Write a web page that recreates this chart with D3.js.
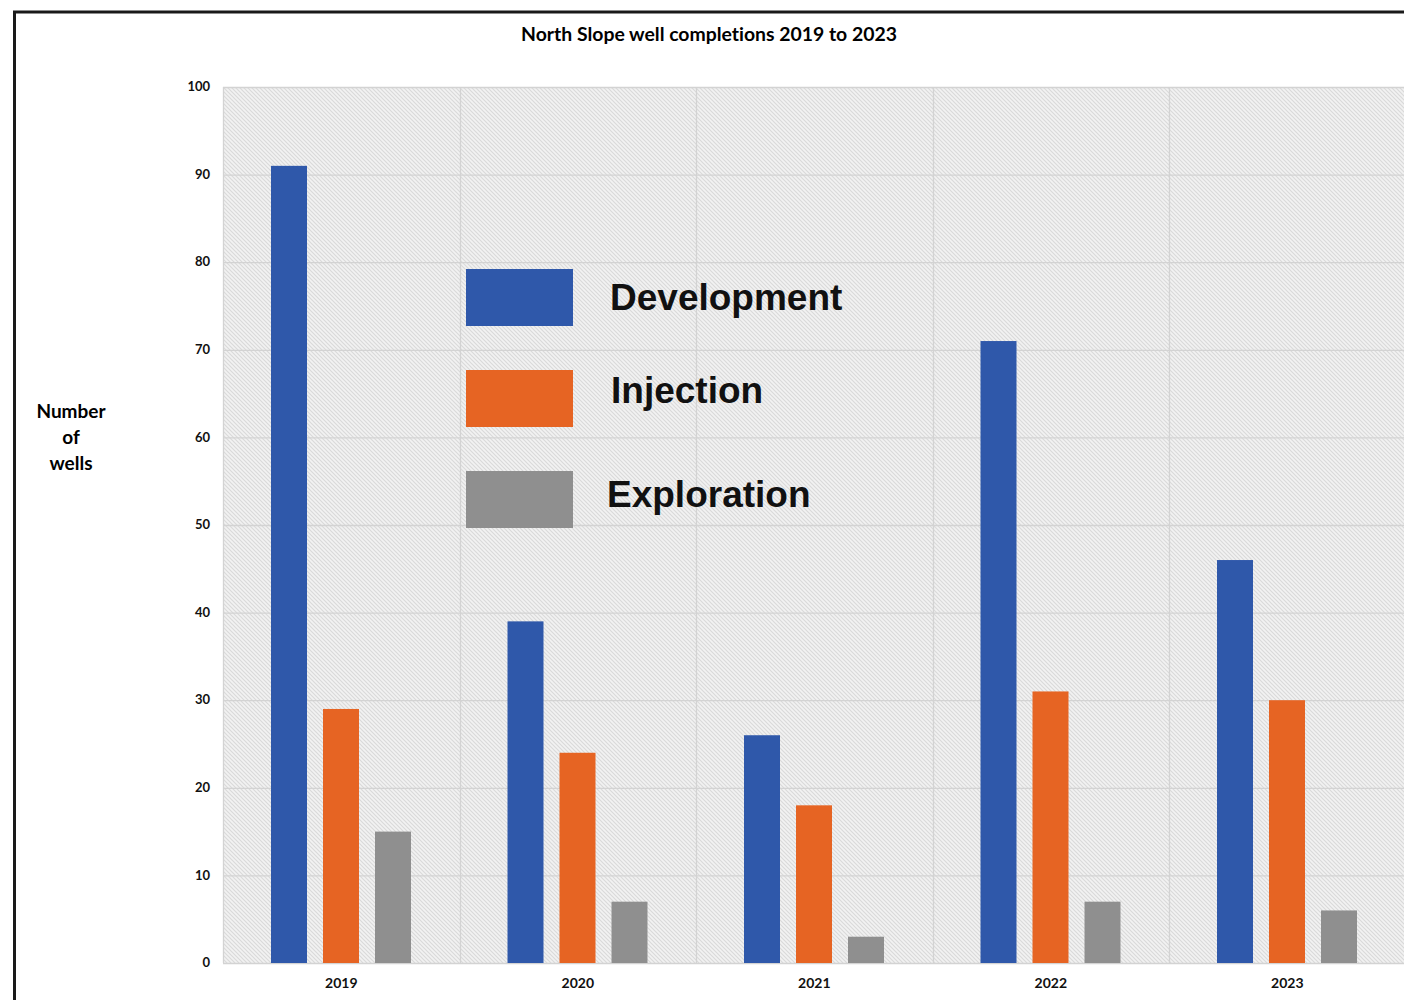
<!DOCTYPE html>
<html>
<head>
<meta charset="utf-8">
<script src="https://cdn.jsdelivr.net/npm/d3@7"></script>
<style>
  html, body { margin: 0; padding: 0; background: #fff; }
  svg { display: block; }
  text { font-variant-ligatures: none; font-feature-settings: "liga" 0; }
</style>
</head>
<body>
<svg id="chart" width="1404" height="1000"></svg>
<script>
const years = ["2019", "2020", "2021", "2022", "2023"];
const seriesNames = ["Development", "Injection", "Exploration"];
const development = [91, 39, 26, 71, 46];
const injection = [29, 24, 18, 31, 30];
const exploration = [15, 7, 3, 7, 6];
const yTicks = [0, 10, 20, 30, 40, 50, 60, 70, 80, 90, 100];
const colors = ["#2F58AA", "#E66423", "#8F8F8F"];
const titleText = "North Slope well completions 2019 to 2023";
const yLabelLines = ["Number", "of", "wells"];

const seriesValues = [development, injection, exploration];

const svg = d3.select("#chart");

// hatch pattern
const defs = svg.append("defs");
const pat = defs.append("pattern")
  .attr("id", "hatch")
  .attr("patternUnits", "userSpaceOnUse")
  .attr("width", 4).attr("height", 4);
pat.append("rect").attr("width", 4).attr("height", 4).attr("fill", "#f2f2f2");
pat.append("path")
  .attr("d", "M-1,-1 L5,5 M-1,3 L1,5 M3,-1 L5,1")
  .attr("stroke", "#d9d9d9").attr("stroke-width", 1.1);

// outer frame
svg.append("rect")
  .attr("x", 14.5).attr("y", 12)
  .attr("width", 1500).attr("height", 1100)
  .attr("fill", "#fff").attr("stroke", "#1a1a1a").attr("stroke-width", 3);

const x0 = 223, x1 = 1405.5, yTop = 87, yBot = 963;

const x = d3.scaleBand().domain(years).range([x0, x1]).paddingInner(0).paddingOuter(0);
const xs = d3.scaleBand().domain(seriesNames).range([48, 188]).paddingInner(16 / 52).paddingOuter(0);
const y = d3.scaleLinear().domain([0, 100]).range([yBot, yTop]);

// plot area background
svg.append("rect")
  .attr("x", x0).attr("y", yTop)
  .attr("width", x1 - x0).attr("height", yBot - yTop)
  .attr("fill", "url(#hatch)");

// horizontal gridlines
svg.append("g").selectAll("line").data(yTicks).join("line")
  .attr("x1", x0).attr("x2", x1)
  .attr("y1", d => y(d) + 0.5).attr("y2", d => y(d) + 0.5)
  .attr("stroke", "#d3d3d3").attr("stroke-width", 1.3);

// vertical gridlines at band boundaries
svg.append("g").selectAll("line").data(years).join("line")
  .attr("x1", d => Math.round(x(d)) + 0.5).attr("x2", d => Math.round(x(d)) + 0.5)
  .attr("y1", yTop).attr("y2", yBot)
  .attr("stroke", "#d3d3d3").attr("stroke-width", 1.3);

// bars
const groups = svg.append("g").selectAll("g").data(years).join("g")
  .attr("transform", d => `translate(${x(d)},0)`);
groups.selectAll("rect")
  .data((d, i) => seriesNames.map((s, j) => ({ s, j, v: seriesValues[j][i] })))
  .join("rect")
  .attr("x", d => xs(d.s))
  .attr("width", xs.bandwidth())
  .attr("y", d => y(d.v))
  .attr("height", d => yBot - y(d.v))
  .attr("fill", d => colors[d.j]);

// y axis labels
const yAxis = d3.axisLeft(y).tickValues(yTicks).tickSize(0).tickPadding(13);
const yg = svg.append("g").attr("transform", `translate(${x0},0)`).call(yAxis);
yg.select(".domain").remove();
yg.selectAll("text")
  .attr("font-family", "Lato, 'Open Sans', sans-serif")
  .attr("font-weight", "bold").attr("font-size", 13).attr("fill", "#111")
  .attr("dy", "0.28em");

// x axis labels
const xAxis = d3.axisBottom(x).tickSize(0).tickPadding(15);
const xg = svg.append("g").attr("transform", `translate(0,${yBot})`).call(xAxis);
xg.select(".domain").remove();
xg.selectAll("text")
  .attr("font-family", "Lato, 'Open Sans', sans-serif")
  .attr("font-weight", "bold").attr("font-size", 14).attr("fill", "#111");

// title
svg.append("text")
  .attr("x", 709).attr("y", 41)
  .attr("text-anchor", "middle")
  .attr("font-family", "Lato, 'Open Sans', sans-serif")
  .attr("font-weight", "bold").attr("font-size", 19.4).attr("fill", "#000")
  .text(titleText);

// y label
svg.append("g").selectAll("text").data(yLabelLines).join("text")
  .attr("x", 71).attr("y", (d, i) => 418 + i * 26)
  .attr("text-anchor", "middle")
  .attr("font-family", "Lato, 'Open Sans', sans-serif")
  .attr("font-weight", "bold").attr("font-size", 19).attr("fill", "#000")
  .text(d => d);

// legend
const legendY = d3.scalePoint().domain(seriesNames).range([298, 500]);
const legendTextX = [610, 611, 607];
const legendTextBase = [310, 403, 507];
const lg = svg.append("g").selectAll("g").data(seriesNames).join("g");
lg.append("rect")
  .attr("x", 466).attr("y", d => legendY(d) - 29)
  .attr("width", 107).attr("height", 57)
  .attr("fill", (d, i) => colors[i]);
lg.append("text")
  .attr("x", (d, i) => legendTextX[i])
  .attr("y", (d, i) => legendTextBase[i])
  .attr("font-family", "'Liberation Sans', Arial, sans-serif")
  .attr("font-weight", "bold").attr("font-size", 37).attr("fill", "#111")
  .text(d => d);
</script>
</body>
</html>
